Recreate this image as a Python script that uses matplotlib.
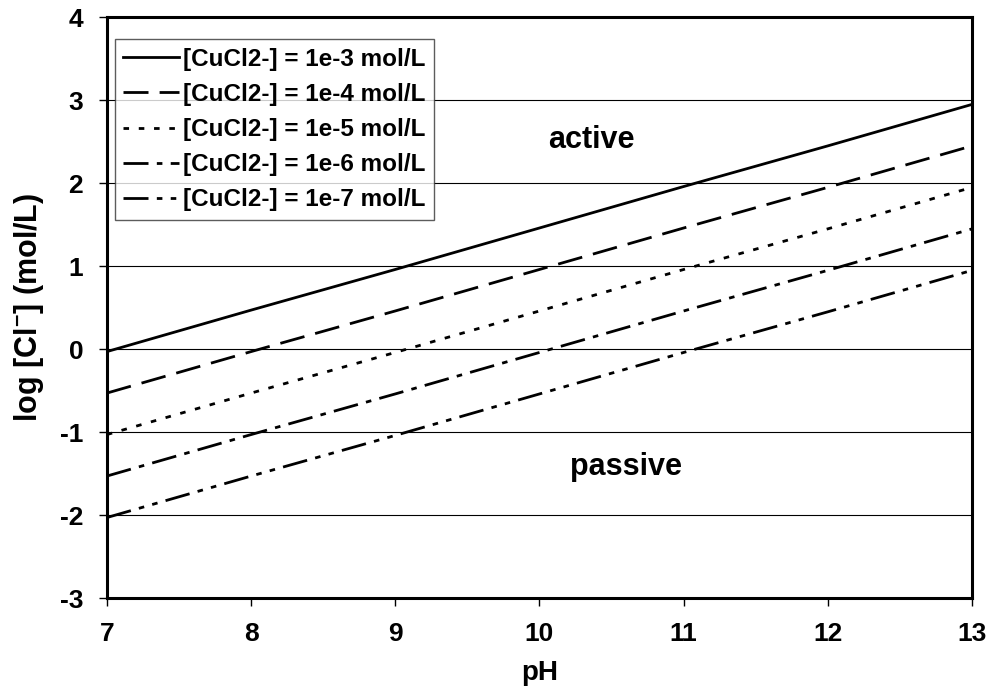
import numpy as np
import matplotlib
matplotlib.use('Agg')
import matplotlib.pyplot as plt

plt.rcParams['font.family'] = ['Liberation Sans', 'DejaVu Sans']
plt.rcParams['font.weight'] = 'bold'
plt.rcParams['axes.unicode_minus'] = False
plt.rcParams['mathtext.fontset'] = 'custom'
plt.rcParams['mathtext.rm'] = 'Liberation Sans:bold'
plt.rcParams['mathtext.bf'] = 'Liberation Sans:bold'

# pH values and log[Cl-]
ph = [7, 8, 9, 10, 11, 12, 13]
cu_1e3 = [-0.03, 0.47, 0.96, 1.46, 1.96, 2.45, 2.95]
cu_1e4 = [-0.53, -0.03, 0.46, 0.96, 1.46, 1.95, 2.45]
cu_1e5 = [-1.03, -0.53, -0.04, 0.46, 0.96, 1.45, 1.95]
cu_1e6 = [-1.53, -1.03, -0.54, -0.04, 0.46, 0.95, 1.45]
cu_1e7 = [-2.03, -1.53, -1.04, -0.54, -0.04, 0.45, 0.95]

labels = ['[CuCl2-] = 1e-3 mol/L', '[CuCl2-] = 1e-4 mol/L', '[CuCl2-] = 1e-5 mol/L',
          '[CuCl2-] = 1e-6 mol/L', '[CuCl2-] = 1e-7 mol/L']

styles = ['-', (0, (9, 4)), (0, (2, 3.5)), (0, (9, 3, 2, 3)), (0, (9, 3, 2, 3, 2, 3))]

fig = plt.figure(figsize=(9.89, 6.89), dpi=100)
ax = fig.add_axes([0.108, 0.132, 0.875, 0.843])

for y, lab, ls in zip([cu_1e3, cu_1e4, cu_1e5, cu_1e6, cu_1e7], labels, styles):
    ax.plot(ph, y, color='black', linewidth=2.0, linestyle=ls, label=lab)

ax.set_xlim(7, 13)
ax.set_ylim(-3, 4)
ax.set_xticks(range(7, 14))
ax.set_yticks(range(-3, 5))
ax.yaxis.grid(True, color='black', linewidth=0.8)
ax.set_axisbelow(True)

for s in ax.spines.values():
    s.set_linewidth(2.2)
ax.tick_params(direction='out', length=6, width=1, labelsize=19, pad=11)

ax.set_xlabel('pH', fontsize=20, fontweight='bold', labelpad=10)
ax.set_ylabel(r'log [Cl$^{-}$] (mol/L)', fontsize=22, fontweight='bold', labelpad=10)

ax.text(10.36, 2.52, 'active', fontsize=22, fontweight='bold', ha='center', va='center')
ax.text(10.6, -1.42, 'passive', fontsize=22, fontweight='bold', ha='center', va='center')

leg = ax.legend(loc='upper left', bbox_to_anchor=(0.009, 0.962), fontsize=17.5,
                frameon=True, fancybox=False, handlelength=2.3, handletextpad=0.15,
                borderpad=0.35, labelspacing=0.5, borderaxespad=0)
leg.get_frame().set_edgecolor('#333333')
leg.get_frame().set_linewidth(1.0)
for t in leg.get_texts():
    t.set_fontweight('bold')

fig.savefig('out.png', dpi=100)
